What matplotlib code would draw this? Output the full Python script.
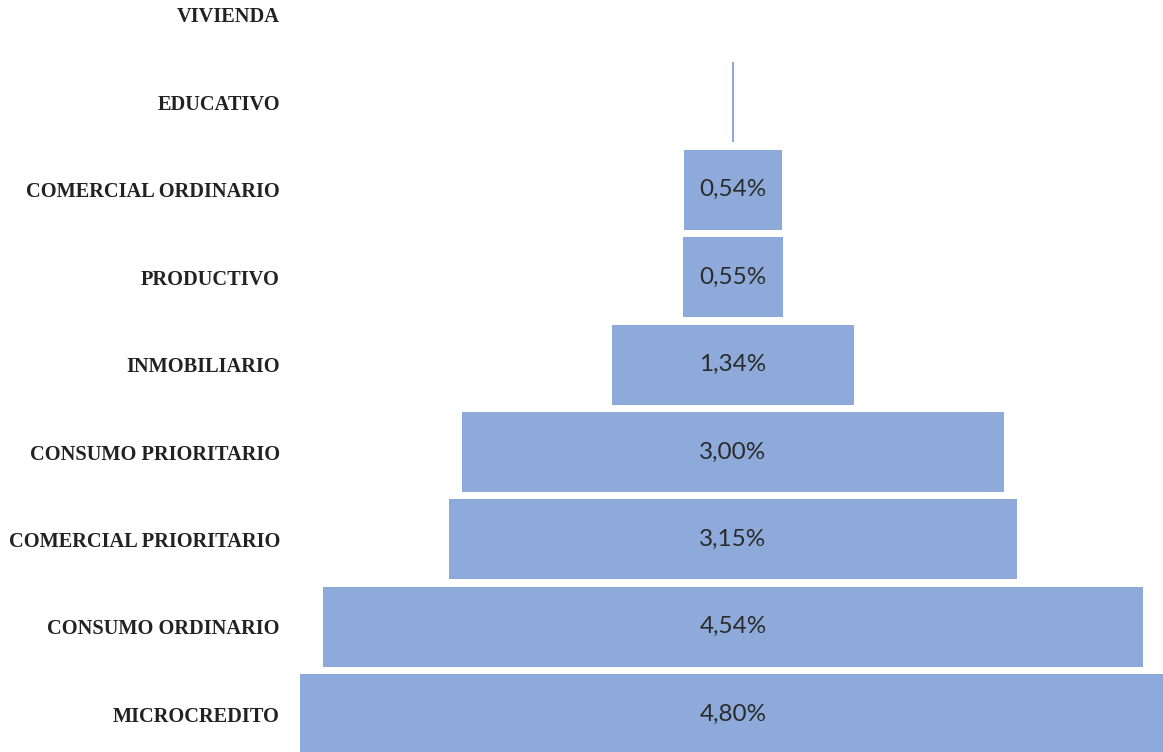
import matplotlib
matplotlib.use("Agg")
from matplotlib import pyplot as plt

CATEGORIES = ["MICROCREDITO", "CONSUMO ORDINARIO", "COMERCIAL PRIORITARIO",
              "CONSUMO PRIORITARIO", "INMOBILIARIO", "PRODUCTIVO",
              "COMERCIAL ORDINARIO", "EDUCATIVO", "VIVIENDA"]
VALUES = [4.80, 4.54, 3.15, 3.00, 1.34, 0.55, 0.54, 0.006, 0.0]

BAR_COLOR = "#8EAADB"
W, H = 1163, 752
CENTER_PX = 733
PX_PER_UNIT = 180.6
ROW_PX = 87.4
TOP_ROW_PX = 15


def fmt(v):
    return f"{v:.2f}%".replace(".", ",")


if __name__ == "__main__":
    fig = plt.figure(figsize=(W / 100, H / 100), dpi=100)
    left_px = 298
    ax = fig.add_axes([left_px / W, 0, 1 - left_px / W, 1])

    y = list(range(len(CATEGORIES)))
    lefts = [-v / 2 for v in VALUES]
    ax.barh(y, VALUES, left=lefts, height=0.915, color=BAR_COLOR,
            linewidth=0)

    for yi, v in zip(y, VALUES):
        if v >= 0.1:
            ax.text(0, yi, fmt(v), ha="center", va="center",
                    fontsize=17.5, family="Lato", color="#2b2b2b")

    ax.set_xlim((left_px - CENTER_PX) / PX_PER_UNIT,
                (W - CENTER_PX) / PX_PER_UNIT)
    top_y = len(CATEGORIES) - 1 + TOP_ROW_PX / ROW_PX
    bottom_y = len(CATEGORIES) - 1 - (H - TOP_ROW_PX) / ROW_PX
    ax.set_ylim(bottom_y, top_y)

    ax.set_yticks(y)
    ax.set_yticklabels(CATEGORIES, family="Liberation Serif",
                       fontweight="bold", fontsize=14.7, color="#222222")
    ax.tick_params(axis="y", length=0, pad=13)
    ax.set_xticks([])
    for s in ax.spines.values():
        s.set_visible(False)

    fig.savefig("out.png", dpi=100)
    plt.close(fig)
